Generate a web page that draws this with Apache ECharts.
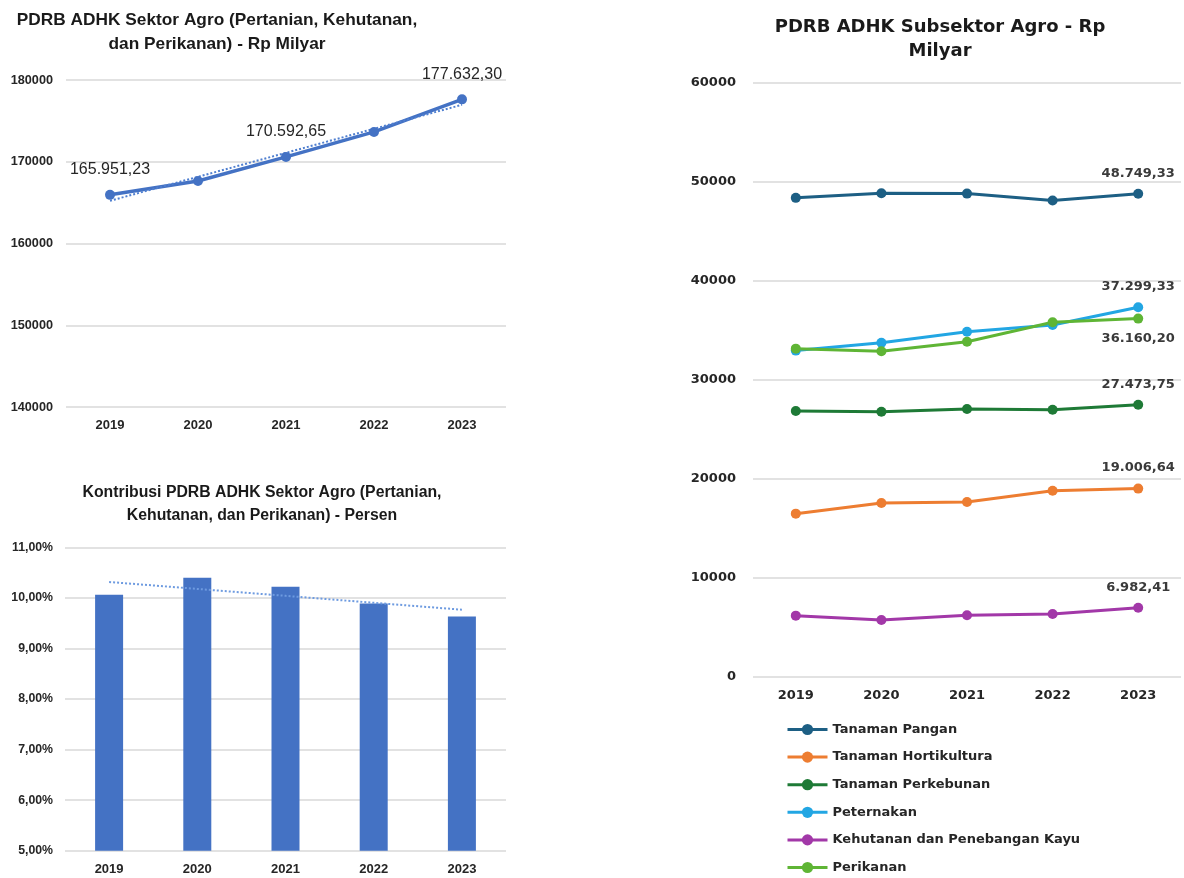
<!DOCTYPE html>
<html>
<head>
<meta charset="utf-8">
<script src="https://cdn.jsdelivr.net/npm/echarts@6/dist/echarts.min.js"></script>
<style>
html,body{margin:0;padding:0;background:#fff;}
#main{width:1184px;height:878px;}
</style>
</head>
<body>
<div id="main"></div>
<script>
// ---- Data ----
const years = ['2019', '2020', '2021', '2022', '2023'];
const pdrbAgro = [165951.23, 167650, 170592.65, 173650, 177632.30];
const pdrbLabeledYears = ['2019', '2021', '2023'];
const kontribusi = [10.06, 10.40, 10.22, 9.89, 9.63];
const subsectorNames = ['Tanaman Pangan', 'Tanaman Hortikultura', 'Tanaman Perkebunan', 'Peternakan', 'Kehutanan dan Penebangan Kayu', 'Perikanan'];
const tanamanPangan = [48340, 48810, 48770, 48070, 48749.33];
const tanamanHortikultura = [16480, 17560, 17660, 18800, 19006.64];
const tanamanPerkebunan = [26840, 26770, 27040, 26970, 27473.75];
const peternakan = [32930, 33730, 34840, 35520, 37299.33];
const kehutanan = [6190, 5750, 6230, 6360, 6982.41];
const perikanan = [33130, 32870, 33830, 35790, 36160.20];
const subsectorValues = [tanamanPangan, tanamanHortikultura, tanamanPerkebunan, peternakan, kehutanan, perikanan];
const subsectorColors = ['#1d5f84', '#ed7d31', '#1e7a36', '#22a6e3', '#a238a8', '#5fb535'];
const subsectorLabelPos = ['top', 'top', 'top', 'top', 'top', 'bottom'];

// ---- Helpers ----
function fmtID(v) {
  const parts = v.toFixed(2).split('.');
  return parts[0].replace(/\B(?=(\d{3})+(?!\d))/g, '.') + ',' + parts[1];
}
function trend(arr) {
  const n = arr.length;
  const mx = (n - 1) / 2;
  const my = arr.reduce((a, b) => a + b, 0) / n;
  let num = 0, den = 0;
  arr.forEach((y, i) => { num += (i - mx) * (y - my); den += (i - mx) * (i - mx); });
  const s = num / den;
  return arr.map((_, i) => my + s * (i - mx));
}

const LEFT_FONT = '"Liberation Sans", Arial, sans-serif';
const RIGHT_FONT = '"DejaVu Sans", Verdana, sans-serif';
const gridLine = { show: true, lineStyle: { color: '#d9d9d9', width: 1.5 } };

const chart = echarts.init(document.getElementById('main'), null, { renderer: 'canvas' });

const rightSeries = subsectorNames.map((name, k) => ({
  name: name,
  type: 'line',
  xAxisIndex: 2, yAxisIndex: 2,
  data: subsectorValues[k],
  symbol: 'circle', symbolSize: 10,
  lineStyle: { width: 3, color: subsectorColors[k] },
  itemStyle: { color: subsectorColors[k] },
  label: {
    show: true, position: subsectorLabelPos[k], distance: 9,
    fontFamily: RIGHT_FONT, fontSize: 13, fontWeight: 'bold', color: '#3a3a3a',
    formatter: p => p.dataIndex === years.length - 1 ? fmtID(p.value) : ''
  },
  emphasis: { disabled: true }
}));

chart.setOption({
  animation: false,
  backgroundColor: '#ffffff',
  title: [
    {
      text: 'PDRB ADHK Sektor Agro (Pertanian, Kehutanan,\ndan Perikanan) - Rp Milyar',
      left: 217, top: 8, textAlign: 'center', padding: 0,
      textStyle: { fontFamily: LEFT_FONT, fontSize: 17.3, fontWeight: 'bold', color: '#1a1a1a', lineHeight: 24 }
    },
    {
      text: 'Kontribusi PDRB ADHK Sektor Agro (Pertanian,\nKehutanan, dan Perikanan) - Persen',
      left: 262, top: 481, textAlign: 'center', padding: 0,
      textStyle: { fontFamily: LEFT_FONT, fontSize: 15.8, fontWeight: 'bold', color: '#1a1a1a', lineHeight: 23 }
    },
    {
      text: 'PDRB ADHK Subsektor Agro - Rp\nMilyar',
      left: 940, top: 15, textAlign: 'center', padding: 0,
      textStyle: { fontFamily: RIGHT_FONT, fontSize: 18, fontWeight: 'bold', color: '#1a1a1a', lineHeight: 24 }
    }
  ],
  legend: {
    data: subsectorNames,
    orient: 'vertical',
    left: 786, top: 723,
    itemWidth: 40, itemHeight: 14, itemGap: 14.6,
    padding: 0,
    lineStyle: { width: 3 },
    textStyle: { fontFamily: RIGHT_FONT, fontSize: 13, fontWeight: 'bold', color: '#262626' }
  },
  grid: [
    { left: 66, top: 80, width: 440, height: 327 },
    { left: 65, top: 547.3, width: 441, height: 303.4 },
    { left: 753, top: 82.3, width: 428, height: 594.7 }
  ],
  xAxis: [0, 1, 2].map(i => ({
    type: 'category', gridIndex: i, data: years,
    axisLine: { show: false }, axisTick: { show: false },
    axisLabel: {
      margin: 12,
      fontFamily: i === 2 ? RIGHT_FONT : LEFT_FONT,
      fontSize: 13, fontWeight: 'bold', color: '#262626'
    }
  })),
  yAxis: [
    {
      type: 'value', gridIndex: 0, min: 140000, max: 180000, interval: 10000,
      splitLine: gridLine, axisLine: { show: false }, axisTick: { show: false },
      axisLabel: { margin: 13, fontFamily: LEFT_FONT, fontSize: 12.7, fontWeight: 'bold', color: '#262626', formatter: v => String(v) }
    },
    {
      type: 'value', gridIndex: 1, min: 5, max: 11, interval: 1,
      splitLine: gridLine, axisLine: { show: false }, axisTick: { show: false },
      axisLabel: {
        margin: 12, fontFamily: LEFT_FONT, fontSize: 12.3, fontWeight: 'bold', color: '#262626',
        formatter: v => v.toFixed(2).replace('.', ',') + '%'
      }
    },
    {
      type: 'value', gridIndex: 2, min: 0, max: 60000, interval: 10000,
      splitLine: gridLine, axisLine: { show: false }, axisTick: { show: false },
      axisLabel: { margin: 17, fontFamily: RIGHT_FONT, fontSize: 13, fontWeight: 'bold', color: '#262626', formatter: v => String(v) }
    }
  ],
  series: [
    {
      name: 'PDRB Agro', type: 'line', xAxisIndex: 0, yAxisIndex: 0,
      data: pdrbAgro,
      symbol: 'circle', symbolSize: 10,
      lineStyle: { width: 3.5, color: '#4472c4' },
      itemStyle: { color: '#4472c4' },
      label: {
        show: true, position: 'top', distance: 12,
        fontFamily: LEFT_FONT, fontSize: 16, color: '#262626',
        formatter: p => pdrbLabeledYears.includes(p.name) ? fmtID(p.value) : ''
      },
      emphasis: { disabled: true }
    },
    {
      name: 'Tren PDRB', type: 'line', xAxisIndex: 0, yAxisIndex: 0,
      data: trend(pdrbAgro), symbol: 'none',
      lineStyle: { width: 2, type: [2, 2], color: '#4f7fd0' },
      emphasis: { disabled: true }
    },
    {
      name: 'Kontribusi', type: 'bar', xAxisIndex: 1, yAxisIndex: 1,
      data: kontribusi, barWidth: 28,
      itemStyle: { color: '#4472c4' },
      emphasis: { disabled: true }
    },
    {
      name: 'Tren Kontribusi', type: 'line', xAxisIndex: 1, yAxisIndex: 1,
      data: trend(kontribusi), symbol: 'none',
      lineStyle: { width: 2, type: [2, 2], color: '#6e9be0' },
      emphasis: { disabled: true }
    }
  ].concat(rightSeries)
});
</script>
</body>
</html>
